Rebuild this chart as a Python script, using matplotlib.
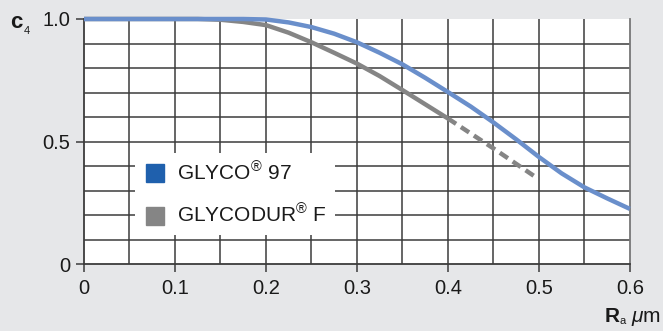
import matplotlib
matplotlib.use("Agg")
import matplotlib.pyplot as plt
from matplotlib.lines import Line2D

plt.rcParams['font.family'] = ['Liberation Sans', 'DejaVu Sans']
plt.rcParams['mathtext.fontset'] = 'custom'
plt.rcParams['mathtext.rm'] = 'Liberation Sans'
plt.rcParams['mathtext.it'] = 'Liberation Sans:italic'
plt.rcParams['mathtext.bf'] = 'Liberation Sans:bold'

# values
ra = [0.0, 0.1, 0.15, 0.175, 0.2, 0.225, 0.25, 0.275, 0.3, 0.325, 0.35, 0.375,
      0.4, 0.425, 0.45, 0.475, 0.5, 0.525, 0.55, 0.575, 0.6]
glyco97 = [1.0, 1.0, 1.0, 1.0, 0.998, 0.986, 0.967, 0.94, 0.905, 0.862, 0.815,
           0.76, 0.702, 0.643, 0.578, 0.509, 0.437, 0.37, 0.313, 0.268, 0.225]

ra_f = [0.0, 0.1, 0.125, 0.15, 0.175, 0.2, 0.225, 0.25, 0.275, 0.3, 0.325,
        0.35, 0.375, 0.4]
glycodur_f = [1.0, 1.0, 1.0, 0.997, 0.988, 0.975, 0.944, 0.905, 0.862, 0.818,
              0.767, 0.71, 0.652, 0.594]
ra_f_ext = [0.4, 0.45, 0.496]
glycodur_f_ext = [0.594, 0.472, 0.356]

labels = ['GLYCO$^{®}$ 97', 'GLYCODUR$^{®}$ F']
xticks = [0, 0.1, 0.2, 0.3, 0.4, 0.5, 0.6]
xtick_labels = ['0', '0.1', '0.2', '0.3', '0.4', '0.5', '0.6']
yticks = [0, 0.5, 1.0]
ytick_labels = ['0', '0.5', '1.0']

blue_line = '#6a8fcb'
blue_box = '#1f60ad'
grey = '#858585'
grid_c = '#3c3c3c'
txt_c = '#1a1a1a'

fig = plt.figure(figsize=(6.63, 3.31), dpi=100, facecolor='#e6e7e9')
ax = fig.add_axes([0.1267, 0.2024, 0.8233, 0.7402])
ax.set_facecolor('white')

for i in range(1, 12):
    ax.axvline(i * 0.05, color=grid_c, lw=1.1, zorder=1)
for i in range(1, 10):
    ax.axhline(i * 0.1, color=grid_c, lw=1.1, zorder=1)

ax.plot(ra, glyco97, color=blue_line, lw=3.2, zorder=4, clip_on=False,
        solid_capstyle='butt', solid_joinstyle='round')
ax.plot(ra_f, glycodur_f, color=grey, lw=3.2, zorder=3, clip_on=False,
        solid_capstyle='butt', solid_joinstyle='round')
ax.plot(ra_f_ext, glycodur_f_ext, color=grey, lw=3.2, zorder=3,
        dashes=(2.2, 1.3), solid_capstyle='butt')

ax.set_xlim(0, 0.6)
ax.set_ylim(0, 1.0)
ax.set_xticks(xticks)
ax.set_xticklabels(xtick_labels)
ax.set_yticks(yticks)
ax.set_yticklabels(ytick_labels)
ax.tick_params(axis='both', direction='out', length=6, width=1.1, color=grid_c,
               labelsize=14.5, labelcolor=txt_c, pad=4)
ax.tick_params(axis='x', pad=5)
ax.spines['top'].set_visible(False)
for s in ['left', 'bottom']:
    ax.spines[s].set_color(grid_c)
    ax.spines[s].set_linewidth(1.3)
ax.spines['right'].set_color('#777777')
ax.spines['right'].set_linewidth(1.3)

handles = [Line2D([], [], ls='none', marker='s', markersize=13, color=blue_box),
           Line2D([], [], ls='none', marker='s', markersize=13, color=grey)]
leg = ax.legend(handles, labels, loc='upper left', bbox_to_anchor=(0.093, 0.455),
                borderaxespad=0, frameon=True, fancybox=False, fontsize=15,
                labelspacing=0.95, handletextpad=0.55, handlelength=1.1,
                borderpad=0.4)
leg.get_frame().set_facecolor('white')
leg.get_frame().set_edgecolor('none')
leg.get_frame().set_alpha(1)
leg.set_zorder(5)
for t in leg.get_texts():
    t.set_color(txt_c)

# axis labels with small subscripts
fig.text(0.016, 0.915, 'c', fontsize=16, fontweight='bold', color=txt_c,
         ha='left', va='baseline')
fig.text(0.036, 0.898, '4', fontsize=8, color=txt_c, ha='left', va='baseline')
fig.text(0.912, 0.028, 'R', fontsize=15, fontweight='bold', color=txt_c,
         ha='left', va='baseline')
fig.text(0.934, 0.022, 'a', fontsize=8, color=txt_c, ha='left', va='baseline')
fig.text(0.997, 0.028, r'$\mathit{\mu}$m', fontsize=15, color=txt_c,
         ha='right', va='baseline')

fig.savefig('out.png', dpi=100, facecolor=fig.get_facecolor())
